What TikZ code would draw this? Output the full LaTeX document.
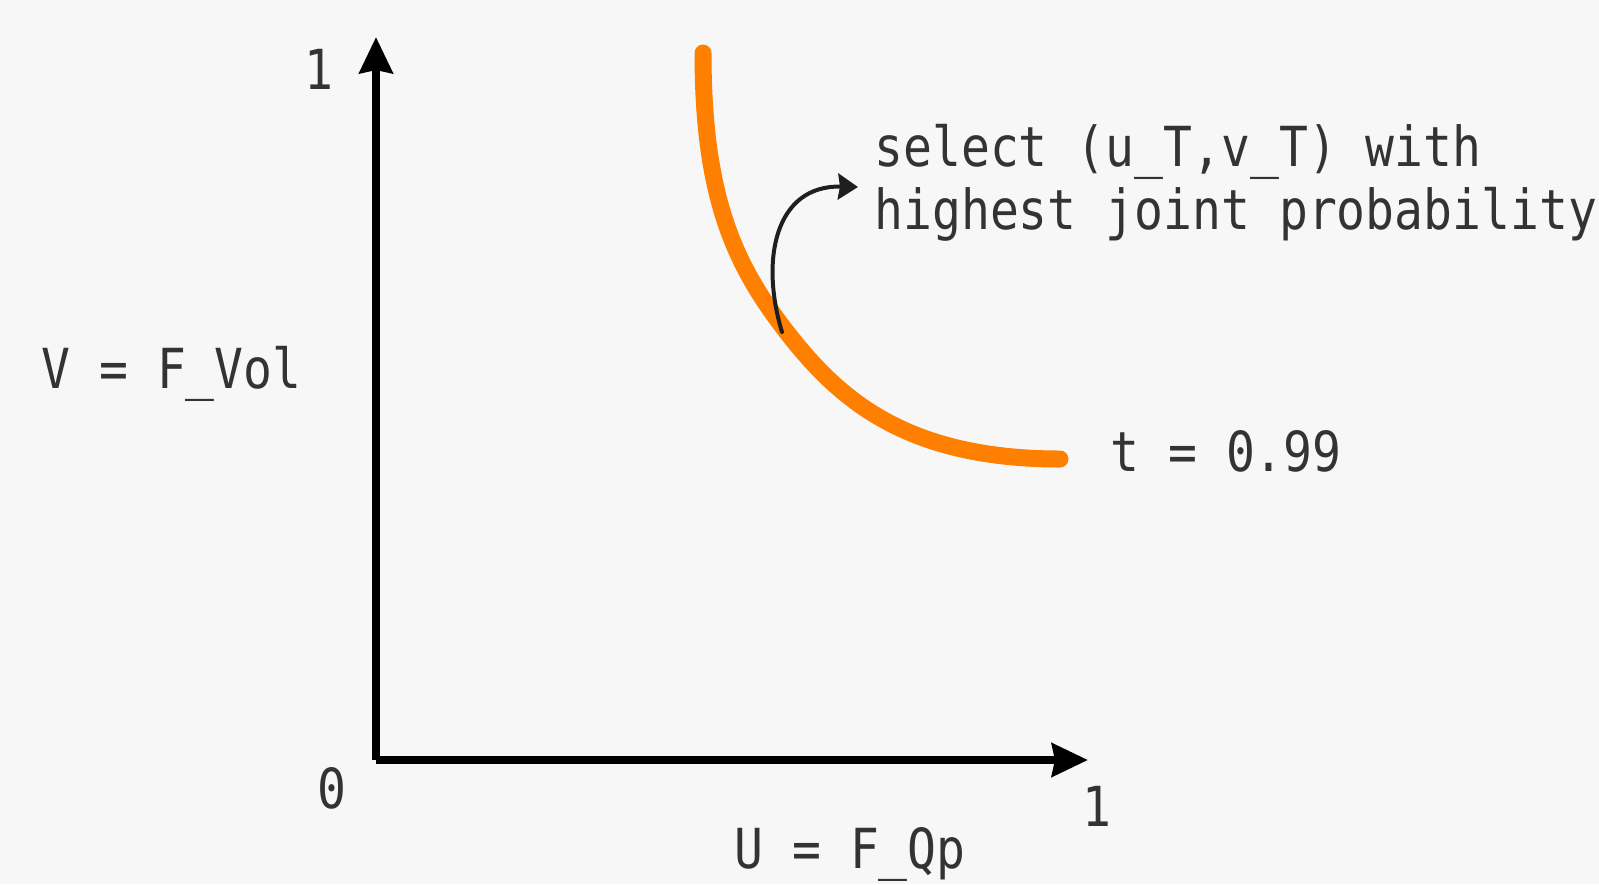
\documentclass[tikz,border=0pt]{standalone}
\usepackage{fontspec}
\newfontfamily\monofont[FakeStretch=0.87]{DejaVu Sans Mono}
\usetikzlibrary{arrows.meta}
\definecolor{bg}{HTML}{F7F7F7}
\definecolor{curveorange}{HTML}{FF8000}
\definecolor{txt}{HTML}{333333}
\begin{document}
\begin{tikzpicture}[x=0.5pt,y=-0.5pt,
  lbl/.style={font=\monofont\fontsize{27.6}{32}\selectfont, text=txt, inner sep=0pt, anchor=base west},
  axis/.style={line width=4pt, draw=black, -{Stealth[length=18pt,width=16.5pt,inset=1.5pt]}},
  pointer/.style={line width=2pt, draw=black!88, line cap=round, -{Stealth[length=10pt,width=13pt,inset=1pt]}},
  tcurve/.style={line width=8.5pt, draw=curveorange, line cap=round}]
\fill[bg] (0,0) rectangle (1599,884);
\useasboundingbox (0,0) rectangle (1599,884);
\coordinate (O) at (376,760);
\coordinate (Ytop) at (376,37);
\coordinate (Xend) at (1088,760);
\draw[axis] (O) -- (Ytop);
\draw[axis] (O) -- (Xend);
\coordinate (c0) at (703,53);
\coordinate (c1) at (793,340);
\coordinate (c2) at (1060,459);
\draw[tcurve] (c0) .. controls (703,203) and (737,270) .. (c1)
  .. controls (843,402) and (910,459) .. (c2);
\coordinate (cs) at (782,332);
\coordinate (ce) at (858,187);
\draw[pointer] (cs) .. controls (760,260) and (775,185) .. (ce);
\node[lbl] (one_y) at (304,89) {1};
\node[lbl] (zero) at (317,808) {0};
\node[lbl] (one_x) at (1082,826) {1};
\node[lbl] (vlab) at (41,388) {V = F\_Vol};
\node[lbl] (ulab) at (734,868) {U = F\_Qp};
\node[lbl] (tlab) at (1110,471) {t = 0.99};
\node[lbl] (sel1) at (874,166) {select (u\_T,v\_T) with};
\node[lbl] (sel2) at (874,229) {highest joint probability};
\end{tikzpicture}
\end{document}
